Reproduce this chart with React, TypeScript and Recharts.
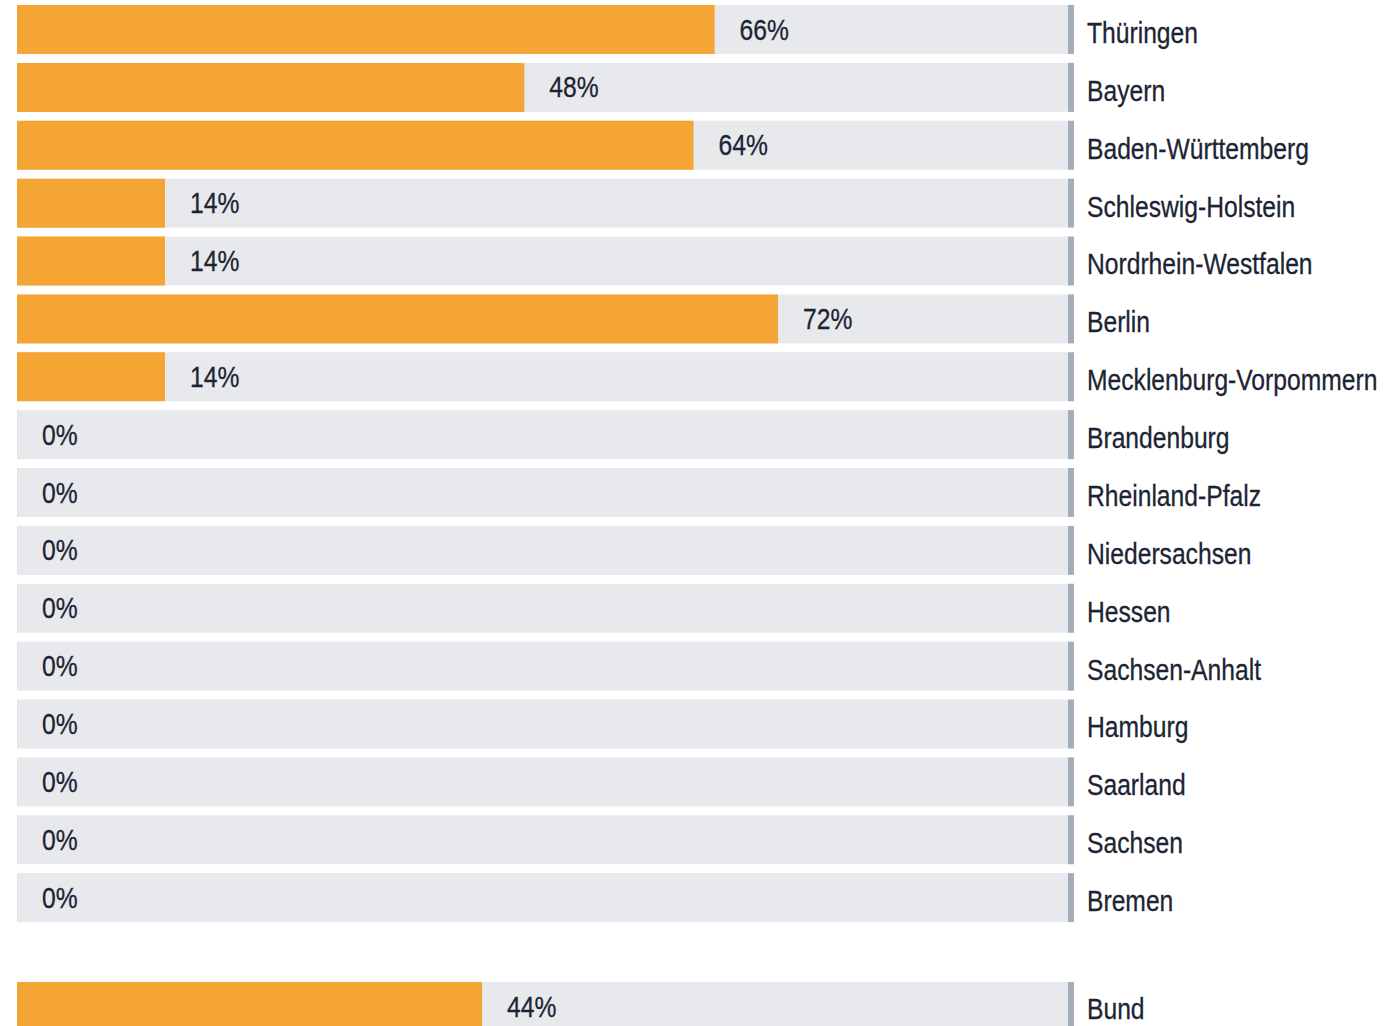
import React from "react";
import { BarChart, Bar, XAxis, YAxis, LabelList } from "recharts";

const laender = [
  "Thüringen",
  "Bayern",
  "Baden-Württemberg",
  "Schleswig-Holstein",
  "Nordrhein-Westfalen",
  "Berlin",
  "Mecklenburg-Vorpommern",
  "Brandenburg",
  "Rheinland-Pfalz",
  "Niedersachsen",
  "Hessen",
  "Sachsen-Anhalt",
  "Hamburg",
  "Saarland",
  "Sachsen",
  "Bremen",
];
const laenderValues = [66, 48, 64, 14, 14, 72, 14, 0, 0, 0, 0, 0, 0, 0, 0, 0];

const bundName = ["Bund"];
const bundValues = [44];

const MAX = 100;

const ORANGE = "#F5A534";
const TRACK = "#E8E9EC";
const EDGE = "#A2AEBA";
const TEXT = "#1C2434";
const FONT = "'Liberation Sans', Arial, sans-serif";
// narrow look: horizontal squeeze of the regular face
const SQUEEZE = 0.85;

const laenderData = laender.map((name, i) => ({ name, value: laenderValues[i], track: MAX }));
const bundData = bundName.map((name, i) => ({ name, value: bundValues[i], track: MAX }));

// gray track with the dark end line at 100%
const Track = (props: any) => {
  const { x, y, width, height } = props;
  return (
    <g>
      <rect x={x} y={y} width={width - 6} height={height} fill={TRACK} />
      <rect x={x + width - 6} y={y} width={6} height={height} fill={EDGE} />
    </g>
  );
};

const NarrowText = ({ x, y, children }: { x: number; y: number; children: any }) => (
  <text
    transform={`translate(${x},${y}) scale(${SQUEEZE},1)`}
    x={0}
    y={0}
    fill={TEXT}
    fontSize={29}
    fontFamily={FONT}
    stroke={TEXT}
    strokeWidth={0.3}
  >
    {children}
  </text>
);

const ValueLabel = (props: any) => {
  const { x, y, width, height, value } = props;
  return (
    <NarrowText x={x + width + 25} y={y + height / 2 + 10}>
      {value}%
    </NarrowText>
  );
};

const NameTick = (props: any) => {
  const { x, y, payload } = props;
  return (
    <NarrowText x={x + 7} y={y + 13}>
      {payload.value}
    </NarrowText>
  );
};

const Rows = ({ data, height, top }: { data: any[]; height: number; top: number }) => (
  <div style={{ position: "absolute", left: 0, top }}>
    <BarChart
      width={1384}
      height={height}
      data={data}
      layout="vertical"
      barCategoryGap={0}
      barGap={-49}
      margin={{ top: 0, right: 10, bottom: 0, left: 17 }}
    >
      <XAxis type="number" domain={[0, MAX]} hide />
      <YAxis
        type="category"
        dataKey="name"
        orientation="right"
        width={300}
        axisLine={false}
        tickLine={false}
        tickMargin={0}
        tick={<NameTick />}
        interval={0}
      />
      <Bar dataKey="track" barSize={49} shape={<Track />} isAnimationActive={false} />
      <Bar
        dataKey="value"
        fill={ORANGE}
        barSize={49}
        minPointSize={0.1}
        isAnimationActive={false}
      >
        <LabelList dataKey="value" content={<ValueLabel />} />
      </Bar>
    </BarChart>
  </div>
);

export default function App() {
  return (
    <div style={{ position: "absolute", left: 0, top: 0, width: 1384, height: 1026, overflow: "hidden", background: "#fff" }}>
      <Rows data={laenderData} height={926} top={1} />
      <Rows data={bundData} height={58} top={977} />
    </div>
  );
}
